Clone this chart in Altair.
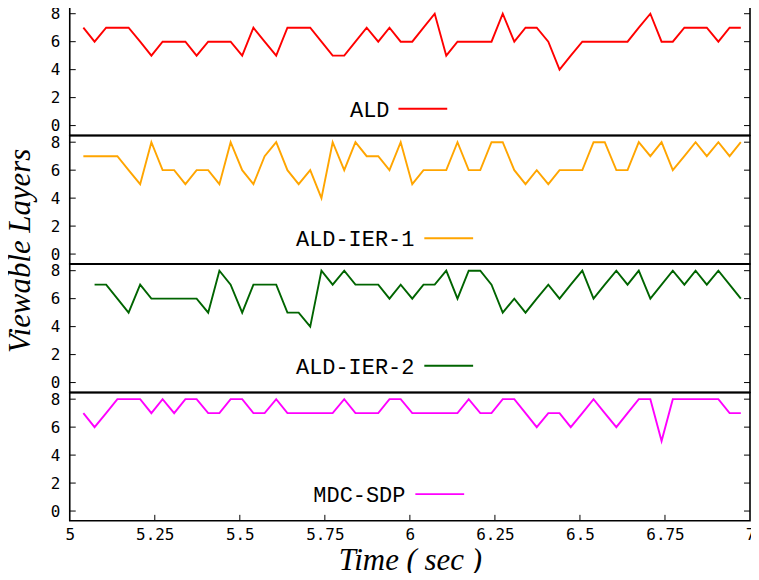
import altair as alt
import pandas as pd

# ---- data ----
times = [5.040, 5.073, 5.107, 5.140, 5.173, 5.207, 5.240, 5.273, 5.307, 5.340,
         5.373, 5.407, 5.440, 5.473, 5.507, 5.540, 5.573, 5.607, 5.640, 5.673,
         5.707, 5.740, 5.773, 5.807, 5.840, 5.873, 5.907, 5.940, 5.973, 6.007,
         6.040, 6.073, 6.107, 6.140, 6.173, 6.207, 6.240, 6.273, 6.307, 6.340,
         6.373, 6.407, 6.440, 6.473, 6.507, 6.540, 6.573, 6.607, 6.640, 6.673,
         6.707, 6.740, 6.773, 6.807, 6.840, 6.873, 6.907, 6.940, 6.973]

ald = [7, 6, 7, 7, 7, 6, 5, 6, 6, 6,
       5, 6, 6, 6, 5, 7, 6, 5, 7, 7,
       7, 6, 5, 5, 6, 7, 6, 7, 6, 6,
       7, 8, 5, 6, 6, 6, 6, 8, 6, 7,
       7, 6, 4, 5, 6, 6, 6, 6, 6, 7,
       8, 6, 6, 7, 7, 7, 6, 7, 7]

ald_ier_1 = [7, 7, 7, 7, 6, 5, 8, 6, 6, 5,
             6, 6, 5, 8, 6, 5, 7, 8, 6, 5,
             6, 4, 8, 6, 8, 7, 7, 6, 8, 5,
             6, 6, 6, 8, 6, 6, 8, 8, 6, 5,
             6, 5, 6, 6, 6, 8, 8, 6, 6, 8,
             7, 8, 6, 7, 8, 7, 8, 7, 8]

ald_ier_2 = [None, 7, 7, 6, 5, 7, 6, 6, 6, 6,
             6, 5, 8, 7, 5, 7, 7, 7, 5, 5,
             4, 8, 7, 8, 7, 7, 7, 6, 7, 6,
             7, 7, 8, 6, 8, 8, 7, 5, 6, 5,
             6, 7, 6, 7, 8, 6, 7, 8, 7, 8,
             6, 7, 8, 7, 8, 7, 8, 7, 6]

mdc_sdp = [7, 6, 7, 8, 8, 8, 7, 8, 7, 8,
           8, 7, 7, 8, 8, 7, 7, 8, 7, 7,
           7, 7, 7, 8, 7, 7, 7, 8, 8, 7,
           7, 7, 7, 7, 8, 7, 7, 8, 8, 7,
           6, 7, 7, 6, 7, 8, 7, 6, 7, 8,
           8, 5, 8, 8, 8, 8, 8, 7, 7]

series_names = ["ALD", "ALD-IER-1", "ALD-IER-2", "MDC-SDP"]
series_values = [ald, ald_ier_1, ald_ier_2, mdc_sdp]
series_colors = ["#ff0000", "#ffa500", "#006400", "#ff00ff"]

y_ticks = [0, 2, 4, 6, 8]
x_ticks = [5, 5.25, 5.5, 5.75, 6, 6.25, 6.5, 6.75, 7]

# ---- layout ----
W = 683
H = 128.75
TICK = 6
# legend placement inside each panel: (text right edge, line start, line end, y)
legend_pos = [(321, 330, 379, 102),
              (346, 356, 405, 103),
              (346, 356, 405, 102),
              (337, 347, 396, 102)]

x_scale = alt.Scale(domain=[5, 7], nice=False, zero=False)
y_scale = alt.Scale(domain=[-0.7, 8.47], nice=False, zero=False)

tick_font = "DejaVu Sans Mono"
tick_size = 16

y_axis = alt.Axis(values=y_ticks, ticks=False, domain=False, grid=False,
                  labelFont=tick_font, labelFontSize=tick_size, labelColor="black",
                  labelPadding=10, labelOverlap=False, title=None)

x_axis_bottom = alt.Axis(values=x_ticks, format=".3~g", ticks=False, domain=False,
                         grid=False, labelFont=tick_font, labelFontSize=tick_size,
                         labelColor="black", labelPadding=6, labelFlush=False,
                         labelOverlap=False,
                         title="Time ( sec )", titleFont="Liberation Serif",
                         titleFontStyle="italic", titleFontWeight="normal",
                         titleFontSize=31, titleColor="black", titlePadding=3)


def panel(i):
    name = series_names[i]
    vals = series_values[i]
    color = series_colors[i]
    bottom = i == len(series_names) - 1
    xa = x_axis_bottom if bottom else None

    df = pd.DataFrame({"t": times, "v": vals}).dropna()
    line = alt.Chart(df).mark_line(color=color, strokeWidth=1.9).encode(
        x=alt.X("t:Q", scale=x_scale, axis=xa),
        y=alt.Y("v:Q", scale=y_scale, axis=y_axis),
    )

    ydf = pd.DataFrame({"y": y_ticks})
    left_ticks = alt.Chart(ydf).mark_rule(color="black", strokeWidth=1).encode(
        y=alt.Y("y:Q", scale=y_scale, axis=y_axis),
        x=alt.value(0), x2=alt.value(TICK),
    )
    right_ticks = alt.Chart(ydf).mark_rule(color="black", strokeWidth=1).encode(
        y=alt.Y("y:Q", scale=y_scale, axis=y_axis),
        x=alt.value(W - TICK), x2=alt.value(W),
    )

    tx, lx1, lx2, ly = legend_pos[i]
    ldf = pd.DataFrame({"label": [name]})
    label = alt.Chart(ldf).mark_text(
        align="right", baseline="middle", font="Liberation Mono",
        fontSize=22, color="black",
    ).encode(text="label:N", x=alt.value(tx), y=alt.value(ly + 1))
    sample = alt.Chart(ldf).mark_rule(color=color, strokeWidth=1.9).encode(
        x=alt.value(lx1), x2=alt.value(lx2), y=alt.value(ly),
    )

    layers = [line, left_ticks, right_ticks, label, sample]
    if bottom:
        xdf = pd.DataFrame({"x": x_ticks[1:-1]})
        bottom_ticks = alt.Chart(xdf).mark_rule(color="black", strokeWidth=1).encode(
            x=alt.X("x:Q", scale=x_scale, axis=xa),
            y=alt.value(H - TICK), y2=alt.value(H),
        )
        layers.append(bottom_ticks)
    return alt.layer(*layers).properties(width=W, height=H)


chart = alt.vconcat(*[panel(i) for i in range(len(series_names))],
                    spacing=0, bounds="flush").properties(
    title=alt.TitleParams(
        text="Viewable Layers", orient="left", anchor="middle",
        font="Liberation Serif", fontStyle="italic", fontWeight="normal",
        fontSize=31, color="black", offset=12, dx=40,
    ),
    padding={"left": -3, "top": -5, "right": -5, "bottom": -5},
).configure(
    background="white",
    view=alt.ViewConfig(stroke="black", strokeWidth=1.6),
)

chart.save("out.html", embed_options={"renderer": "svg", "actions": False})
